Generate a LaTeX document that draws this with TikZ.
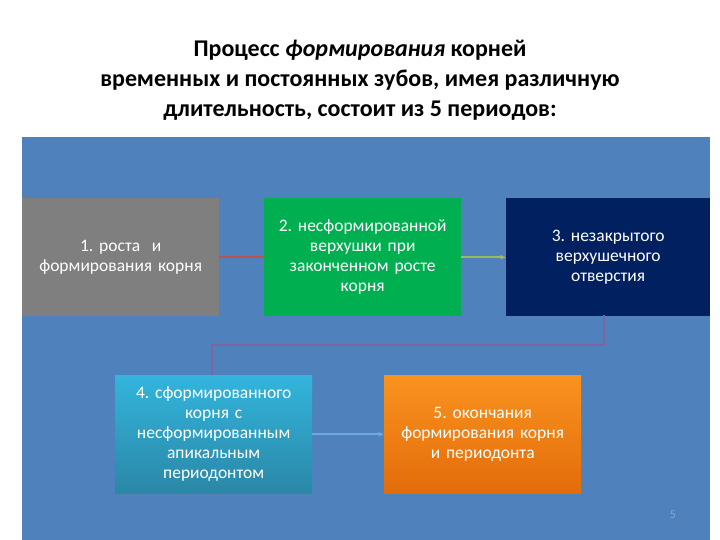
\documentclass[tikz,border=0pt]{standalone}
\usepackage{fontspec}
\setmainfont{Carlito}
\frenchspacing
\usetikzlibrary{arrows.meta}
\definecolor{panel}{HTML}{4F81BD}
\definecolor{gbox}{HTML}{7F7F7F}
\definecolor{grbox}{HTML}{00B050}
\definecolor{nbox}{HTML}{002060}
\definecolor{ctop}{HTML}{33B5DD}
\definecolor{cbot}{HTML}{2A87A6}
\definecolor{otop}{HTML}{F9931F}
\definecolor{obot}{HTML}{E36C0A}
\definecolor{redln}{HTML}{C0504D}
\definecolor{grnln}{HTML}{9BBB59}
\definecolor{purln}{HTML}{8064A2}
\definecolor{bluln}{HTML}{6FA8DC}
\tikzset{
  stage/.style={minimum width=197pt, minimum height=118pt, text width=192pt, align=center,
    text=white, font=\fontsize{17.5}{20}\selectfont, inner sep=0pt, anchor=north west},
  conn/.style={line width=1.8pt}
}
\begin{document}
\begin{tikzpicture}[x=1pt,y=-1pt]
\useasboundingbox (0,0) rectangle (720,540);
\fill[white] (0,0) rectangle (720,540);
\fill[panel] (22,137) rectangle (710,540);
\node[font=\bfseries\fontsize{24}{30}\selectfont, align=center] (title) at (360,80)
  {Процесс \textit{формирования} корней\\временных и постоянных зубов, имея различную\\длительность, состоит из 5 периодов:};
\node[stage, fill=gbox] (s1) at (22,198) {1. роста \ и\\формирования корня};
\node[stage, fill=grbox] (s2) at (264,198) {2. несформированной\\верхушки при\\законченном росте\\корня};
\node[stage, fill=nbox, minimum width=204pt] (s3) at (506,198) {3. незакрытого\\верхушечного\\отверстия};
\node[stage, top color=ctop, bottom color=cbot, minimum width=197pt] (s4) at (115,375) {4. сформированного\\корня с\\несформированным\\апикальным\\периодонтом};
\node[stage, top color=otop, bottom color=obot] (s5) at (384,375) {5. окончания\\формирования корня\\и периодонта};
\draw[conn, redln] (s1.east) -- (s2.west);
\draw[conn, grnln, -{Stealth[length=6pt]}] (s2.east) -- (s3.west);
\coordinate (b3) at (604,315);
\coordinate (t4) at (212,375);
\draw[conn, purln] (b3) -- (604,345) -- (212,345) -- (t4);
\draw[conn, bluln, -{Stealth[length=6pt]}] (s4.east) -- (s5.west);
\node[text=panel!70!white, font=\fontsize{12}{12}\selectfont] (pg) at (673,515) {5};
\end{tikzpicture}
\end{document}
